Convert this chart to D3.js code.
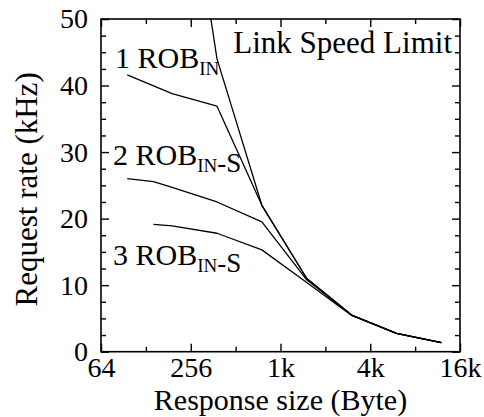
<!DOCTYPE html>
<html>
<head>
<meta charset="utf-8">
<script src="https://cdn.jsdelivr.net/npm/d3@7"></script>
<style>
  html, body { margin: 0; padding: 0; background: #fff; }
  svg { display: block; }
  text { font-family: "Liberation Serif", "Times New Roman", serif; fill: #000; }
</style>
</head>
<body>
<svg id="chart" width="484" height="417"></svg>
<script>
// Response size (bytes) and request rate (kHz) for each configuration
const linkSizes = [192, 384, 768, 1536, 3072, 6144, 12288];
const linkRate  = [88, 44, 22, 11, 5.5, 2.75, 1.375];

const rob1Sizes = [96, 192, 384, 768, 1536, 3072, 6144, 12288];
const rob1Rate  = [41.6, 38.8, 36.9, 22, 11, 5.5, 2.75, 1.375];

const rob2Sizes = [96, 144, 192, 384, 768, 1536, 3072, 6144, 12288];
const rob2Rate  = [26.0, 25.55, 24.7, 22.5, 19.5, 10.8, 5.5, 2.75, 1.375];

const rob3Sizes = [144, 192, 384, 768, 1536, 3072, 6144, 12288];
const rob3Rate  = [19.15, 18.9, 17.8, 15.3, 10.4, 5.45, 2.75, 1.375];

// Axis ticks
const xMajorTicks = [64, 256, 1024, 4096, 16384];
const xTickLabels = ["64", "256", "1k", "4k", "16k"];
const xMinorTicks = [128, 512, 2048, 8192];
const yMajorTicks = [0, 10, 20, 30, 40, 50];
const yMinorTicks = [2.5, 5, 7.5, 12.5, 15, 17.5, 22.5, 25, 27.5, 32.5, 35, 37.5, 42.5, 45, 47.5];

const margin = { left: 101, top: 19, right: 24, bottom: 65.3 };
const W = 484, H = 417;
const iw = W - margin.left - margin.right;
const ih = H - margin.top - margin.bottom;

const svg = d3.select("#chart");
const g = svg.append("g").attr("transform", `translate(${margin.left},${margin.top})`);

const x = d3.scaleLog().base(2).domain([64, 16384]).range([0, iw]);
const y = d3.scaleLinear().domain([0, 50]).range([ih, 0]);

svg.append("defs").append("clipPath").attr("id", "plot-clip")
  .append("rect").attr("width", iw).attr("height", ih);

// Axes with inward ticks on all four sides
const tickFont = 28;
const fmtX = d => xTickLabels[xMajorTicks.indexOf(d)];

function styleAxis(sel) {
  sel.select(".domain").remove();
  sel.selectAll("line").attr("stroke", "#000").attr("stroke-width", 1.4);
  sel.selectAll("text").style("font-size", tickFont + "px");
}

g.append("g").attr("transform", `translate(0,${ih})`)
  .call(d3.axisBottom(x).tickValues(xMajorTicks).tickFormat(fmtX)
    .tickSizeInner(-8).tickSizeOuter(0).tickPadding(5))
  .call(styleAxis);
g.append("g").attr("transform", `translate(0,${ih})`)
  .call(d3.axisBottom(x).tickValues(xMinorTicks).tickFormat("")
    .tickSizeInner(-5).tickSizeOuter(0))
  .call(styleAxis);
g.append("g")
  .call(d3.axisTop(x).tickValues(xMajorTicks).tickFormat("")
    .tickSizeInner(-8).tickSizeOuter(0))
  .call(styleAxis);
g.append("g")
  .call(d3.axisTop(x).tickValues(xMinorTicks).tickFormat("")
    .tickSizeInner(-5).tickSizeOuter(0))
  .call(styleAxis);

g.append("g")
  .call(d3.axisLeft(y).tickValues(yMajorTicks).tickFormat(d3.format("d"))
    .tickSizeInner(-8).tickSizeOuter(0).tickPadding(13))
  .call(styleAxis);
g.append("g")
  .call(d3.axisLeft(y).tickValues(yMinorTicks).tickFormat("")
    .tickSizeInner(-5).tickSizeOuter(0))
  .call(styleAxis);
g.append("g").attr("transform", `translate(${iw},0)`)
  .call(d3.axisRight(y).tickValues(yMajorTicks).tickFormat("")
    .tickSizeInner(-8).tickSizeOuter(0))
  .call(styleAxis);
g.append("g").attr("transform", `translate(${iw},0)`)
  .call(d3.axisRight(y).tickValues(yMinorTicks).tickFormat("")
    .tickSizeInner(-5).tickSizeOuter(0))
  .call(styleAxis);

// Plot frame
g.append("rect").attr("width", iw).attr("height", ih)
  .attr("fill", "none").attr("stroke", "#000").attr("stroke-width", 1.6);

// Curves
const line = d3.line().x(d => x(d[0])).y(d => y(d[1]));
const series = [
  [linkSizes, linkRate],
  [rob1Sizes, rob1Rate],
  [rob2Sizes, rob2Rate],
  [rob3Sizes, rob3Rate]
];
g.append("g").attr("clip-path", "url(#plot-clip)")
  .selectAll("path").data(series).join("path")
  .attr("d", s => line(d3.zip(s[0], s[1])))
  .attr("fill", "none").attr("stroke", "#000").attr("stroke-width", 1.3)
  .attr("stroke-linejoin", "round");

// In-plot labels
const labelFont = 30;
function robLabel(num, suffix, lx, ly) {
  const t = g.append("text").attr("x", lx).attr("y", ly).style("font-size", labelFont + "px");
  t.append("tspan").text(num + " ROB");
  t.append("tspan").text("IN").style("font-size", "19px").attr("dy", 7);
  if (suffix) t.append("tspan").text(suffix).style("font-size", "27px");
}
robLabel("1", "", 115 - margin.left, 68 - margin.top);
robLabel("2", "-S", 113 - margin.left, 165 - margin.top);
robLabel("3", "-S", 113 - margin.left, 265 - margin.top);

g.append("text").attr("x", 452 - margin.left).attr("y", 53 - margin.top)
  .attr("text-anchor", "end").style("font-size", "31px")
  .text("Link Speed Limit");

// Axis titles
svg.append("text").attr("x", margin.left + iw / 2).attr("y", 410)
  .attr("text-anchor", "middle").style("font-size", "30px")
  .text("Response size (Byte)");
svg.append("text")
  .attr("transform", `translate(37,${margin.top + ih / 2 + 4}) rotate(-90)`)
  .attr("text-anchor", "middle").style("font-size", "31px")
  .text("Request rate (kHz)");
</script>
</body>
</html>
